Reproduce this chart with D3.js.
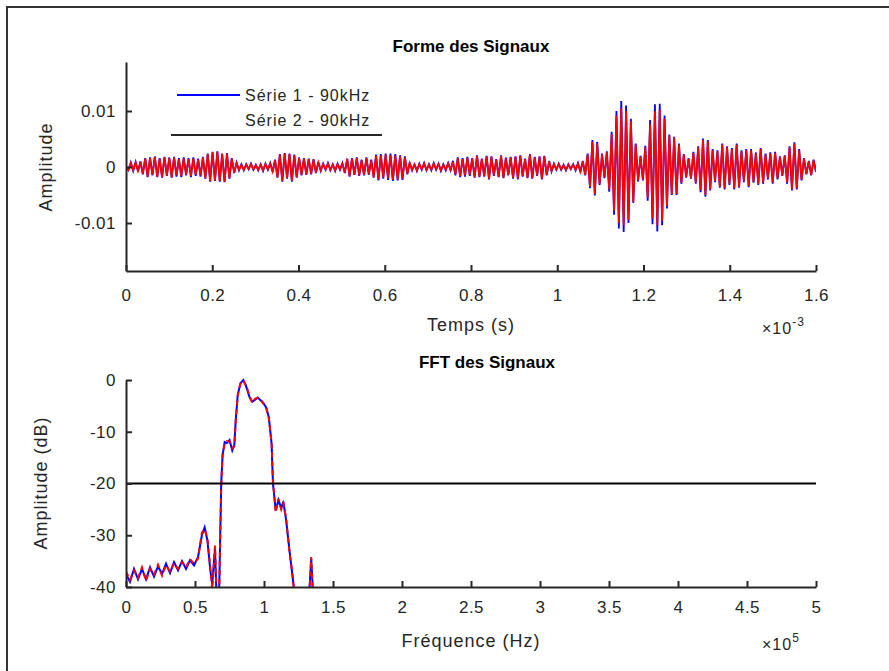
<!DOCTYPE html>
<head>
  <meta charset="utf-8">
  <script src="https://cdn.jsdelivr.net/npm/d3@7"></script>
  <style>
    body { margin: 0; background: #fff; }
    text { font-family: "Liberation Sans", Arial, sans-serif; fill: #262626; }
    .tick text { font-size: 17px; letter-spacing: 0.5px; }
    .lab { font-size: 18px; letter-spacing: 1px; }
    .ttl { font-size: 17px; font-weight: bold; fill: #000; }
  </style>
</head>
<body>
  <svg width="889" height="671"></svg>
  <script>

  // signal amplitudes, units of 1e-4, one value per half cycle (0 -> 1.6 ms)
  var serie1 = [
    0,-6,8,-7,9,-8,10,-13,16,-18,17,-15,19,-18,16,-19,18,-16,
    17,-19,18,-17,16,-18,17,-15,16,-18,17,-16,15,-17,18,-21,24,-26,
    27,-25,28,-26,24,-27,25,-21,16,-11,8,-6,5,-6,5,-4,6,-5,
    4,-6,5,-7,6,-5,7,-9,13,-19,23,-26,25,-21,24,-26,22,-19,
    17,-15,16,-14,15,-13,14,-11,9,-7,6,-5,7,-6,5,-7,6,-5,
    7,-11,15,-17,16,-14,17,-16,13,-15,17,-14,13,-19,22,-24,23,-21,
    24,-23,24,-25,23,-24,21,-23,19,-13,8,-6,5,-7,6,-5,7,-6,
    5,-6,7,-5,6,-7,5,-6,7,-6,11,-15,17,-18,16,-17,18,-16,
    16,-19,21,-18,15,-17,20,-22,19,-16,14,-18,21,-20,17,-15,18,-21,
    19,-22,21,-17,15,-20,23,-21,18,-16,19,-22,20,-15,11,-8,6,-5,
    6,-5,4,-6,5,-4,5,-6,7,-9,11,-15,24,-38,48,-51,45,-32,
    24,-20,28,-44,63,-85,100,-110,118,-116,110,-100,86,-64,42,-26,20,-24,
    38,-60,84,-102,112,-115,113,-104,92,-74,58,-50,54,-50,42,-30,23,-19,
    16,-21,27,-30,37,-45,51,-53,48,-42,32,-27,30,-37,42,-40,37,-32,
    34,-40,42,-37,30,-27,32,-36,32,-28,26,-32,34,-30,24,-22,26,-30,
    27,-22,19,-16,21,-30,37,-42,44,-40,32,-24,16,-13,11,-15,13,-9
  ];

  var serie2 = [
    0,-5,7,-6,8,-7,9,-12,15,-17,16,-14,18,-17,15,-18,17,-15,
    16,-18,17,-15,14,-16,15,-13,14,-16,15,-14,13,-15,17,-20,23,-25,
    26,-24,27,-25,23,-26,24,-20,15,-10,7,-5,4,-5,4,-3,5,-4,
    3,-5,4,-6,5,-4,6,-8,12,-18,22,-25,24,-20,23,-25,21,-18,
    16,-14,15,-13,14,-12,13,-10,8,-6,5,-4,6,-5,4,-6,5,-4,
    6,-10,14,-16,15,-13,16,-15,12,-14,16,-13,12,-18,20,-22,21,-19,
    22,-20,21,-23,20,-22,19,-21,17,-12,7,-5,4,-6,5,-4,6,-5,
    4,-5,6,-4,5,-6,4,-5,6,-5,9,-13,15,-16,14,-15,16,-14,
    15,-18,20,-17,14,-16,19,-21,18,-15,13,-17,20,-19,16,-14,17,-20,
    18,-21,20,-16,14,-19,22,-20,17,-15,18,-21,19,-14,10,-7,5,-4,
    5,-4,3,-5,4,-3,4,-5,6,-8,10,-14,22,-35,45,-48,42,-30,
    22,-18,26,-40,58,-78,92,-100,105,-104,100,-94,82,-62,40,-24,18,-22,
    35,-55,76,-92,100,-104,102,-96,86,-70,56,-48,52,-48,40,-28,22,-18,
    15,-20,25,-28,35,-42,48,-50,46,-40,30,-25,28,-35,40,-38,35,-30,
    32,-38,40,-35,28,-25,30,-34,30,-26,24,-30,32,-28,22,-20,24,-28,
    25,-20,18,-15,20,-28,35,-40,42,-38,30,-22,15,-12,10,-14,12,-8
  ];

  // FFT (Hz, dB)
  var fftFreq = [0,2900,5800,8700,11600,14500,17400,20300,23200,26100,29000,31900,34800,37700,40600,43500,46400,
    49300,52200,55000,57000,59000,61000,62500,64500,66000,67500,69000,70000,71500,73000,75000,77000,78500,79500,
    81000,83000,85000,86500,88000,89500,91500,93500,95500,97500,99500,101500,103500,105500,106500,108500,110500,
    112500,114000,116000,118500,120500,122000,124000,131000,133000,134200,135700,138000];
  var fft1 = [-37.5,-39,-36.5,-38.5,-36.5,-38.5,-36.2,-38,-36,-37.5,-35.5,-37.3,-35.2,-36.8,-35,-36.5,-34.8,
    -35.8,-34.2,-30,-28.5,-31,-36.5,-39.5,-32.5,-45,-41,-20,-14.5,-12,-12.2,-11.6,-13.6,-12.5,-7.8,
    -2.8,-0.6,0,-0.8,-2,-3.3,-4.2,-3.8,-3.4,-3.9,-4.4,-5.3,-7.2,-12.3,-20,-25.2,-23.2,
    -24.8,-23.5,-27,-33,-37.5,-41,-48,-55,-40,-34.5,-42,-55];
  var fft2 = [-37,-38.6,-36.8,-38.2,-36.2,-38.8,-36.5,-37.6,-35.7,-37.8,-35.8,-37,-35.4,-36.5,-35.2,-36.2,-34.6,
    -35.5,-34.5,-29.5,-28.8,-30.6,-36,-40.5,-32,-44,-42,-20.5,-14.2,-12.4,-11.8,-11.9,-13.2,-12.8,-8,
    -3,-0.5,-0.1,-0.9,-1.8,-3.1,-4.4,-3.6,-3.5,-3.7,-4.6,-5.1,-7.5,-12,-19.6,-25.6,-23,
    -25,-23.8,-26.6,-33.4,-37.2,-41.5,-47,-54,-41,-34.2,-43,-56];

  var yTicks1 = [-0.01, 0, 0.01],
      xTicks1 = [0, 0.2, 0.4, 0.6, 0.8, 1, 1.2, 1.4, 1.6],
      yTicks2 = [-40, -30, -20, -10, 0],
      xTicks2 = [0, 0.5, 1, 1.5, 2, 2.5, 3, 3.5, 4, 4.5, 5];

  var svg = d3.select("svg");

  // figure frame
  svg.append("rect")
      .attr("x", 7).attr("y", 7)
      .attr("width", 1000).attr("height", 800)
      .attr("fill", "none").attr("stroke", "#333").attr("stroke-width", 2);

  // ---------- top : Forme des Signaux ----------
  var x1 = d3.scaleLinear().domain([0, 1.6e-3]).range([126, 816]),
      y1 = d3.scaleLinear().domain([-0.01857, 0.01875]).range([271, 62]);

  var n = serie1.length;
  function tAt(i) { return i * 1.6e-3 / (n - 1); }

  var line1 = d3.line()
      .x(function(d, i) { return x1(tAt(i)); })
      .y(function(d) { return y1(d * 1e-4); });

  svg.append("defs").append("clipPath").attr("id", "c1")
    .append("rect").attr("x", 126).attr("y", 62).attr("width", 690).attr("height", 209);

  var g1 = svg.append("g").attr("clip-path", "url(#c1)");
  g1.append("path").attr("d", line1(serie1))
      .attr("fill", "none").attr("stroke", "#0000ff").attr("stroke-width", 1.8);
  g1.append("path").attr("d", line1(serie2))
      .attr("fill", "none").attr("stroke", "#ff0000").attr("stroke-width", 1.8);

  svg.append("g")
      .attr("transform", "translate(126,0)")
      .call(d3.axisLeft(y1).tickValues(yTicks1).tickSizeInner(-6).tickSizeOuter(0).tickPadding(10)
        .tickFormat(function(d) { return d === 0 ? "0" : d3.format(".2f")(d).replace("−", "-"); }))
      .call(styleAxis);

  svg.append("g")
      .attr("transform", "translate(0,271)")
      .call(d3.axisBottom(x1).tickValues(xTicks1.map(function(d) { return d * 1e-3; })).tickSizeInner(-6).tickSizeOuter(0).tickPadding(18)
        .tickFormat(function(d) { return d3.format("~g")(+(d * 1e3).toFixed(1)); }))
      .call(styleAxis);

  svg.append("text").attr("class", "ttl").attr("x", 471).attr("y", 52)
      .attr("text-anchor", "middle").text("Forme des Signaux");
  svg.append("text").attr("class", "lab").attr("x", 471).attr("y", 331)
      .attr("text-anchor", "middle").text("Temps (s)");
  svg.append("text").attr("class", "lab")
      .attr("transform", "translate(52,167) rotate(-90)")
      .attr("text-anchor", "middle").text("Amplitude");
  expo(762, 334, "-3");

  // legend
  svg.append("line").attr("x1", 177).attr("x2", 240).attr("y1", 95).attr("y2", 95)
      .attr("stroke", "#0000ff").attr("stroke-width", 2);
  svg.append("text").attr("class", "lab").style("font-size", "16px").attr("x", 245).attr("y", 101).text("Série 1 - 90kHz");
  svg.append("text").attr("class", "lab").style("font-size", "16px").attr("x", 245).attr("y", 126).text("Série 2 - 90kHz");
  svg.append("line").attr("x1", 171).attr("x2", 382).attr("y1", 135).attr("y2", 135)
      .attr("stroke", "#262626").attr("stroke-width", 2);

  // ---------- bottom : FFT des Signaux ----------
  var x2 = d3.scaleLinear().domain([0, 5e5]).range([126, 816]),
      y2 = d3.scaleLinear().domain([-40, 0]).range([587, 380]);

  svg.select("defs").append("clipPath").attr("id", "c2")
    .append("rect").attr("x", 126).attr("y", 370).attr("width", 690).attr("height", 217);

  var line2 = d3.line()
      .x(function(d, i) { return x2(fftFreq[i]); })
      .y(function(d) { return y2(d); });

  var g2 = svg.append("g").attr("clip-path", "url(#c2)");
  g2.append("path").attr("d", line2(fft1))
      .attr("fill", "none").attr("stroke", "#0000ff").attr("stroke-width", 2);
  g2.append("path").attr("d", line2(fft2))
      .attr("fill", "none").attr("stroke", "#ff0000").attr("stroke-width", 2)
      .attr("stroke-dasharray", "5,4");

  // -20 dB line
  svg.append("line")
      .attr("x1", x2(0)).attr("x2", x2(5e5))
      .attr("y1", y2(-20)).attr("y2", y2(-20))
      .attr("stroke", "#000").attr("stroke-width", 2);

  svg.append("g")
      .attr("transform", "translate(126,0)")
      .call(d3.axisLeft(y2).tickValues(yTicks2).tickSizeInner(-6).tickSizeOuter(0).tickPadding(10)
        .tickFormat(function(d) { return String(d); }))
      .call(styleAxis);

  svg.append("g")
      .attr("transform", "translate(0,587)")
      .call(d3.axisBottom(x2).tickValues(xTicks2.map(function(d) { return d * 1e5; })).tickSizeInner(-6).tickSizeOuter(0).tickPadding(14)
        .tickFormat(function(d) { return String(+(d / 1e5).toFixed(1)); }))
      .call(styleAxis);

  svg.append("text").attr("class", "ttl").attr("x", 487).attr("y", 368)
      .attr("text-anchor", "middle").text("FFT des Signaux");
  svg.append("text").attr("class", "lab").attr("x", 471).attr("y", 647)
      .attr("text-anchor", "middle").text("Fréquence (Hz)");
  svg.append("text").attr("class", "lab")
      .attr("transform", "translate(47,483) rotate(-90)")
      .attr("text-anchor", "middle").text("Amplitude (dB)");
  expo(762, 650, "5");

  function styleAxis(g) {
    g.select(".domain").attr("stroke", "#262626").attr("stroke-width", 2);
    g.selectAll(".tick line").attr("stroke", "#262626").attr("stroke-width", 2);
    g.selectAll(".tick text").attr("fill", "#262626").style("font-family", "Liberation Sans, Arial, sans-serif");
  }

  function expo(x, y, p) {
    var t = svg.append("text").attr("class", "lab").attr("x", x).attr("y", y).style("font-size", "16px");
    t.append("tspan").text("×10");
    t.append("tspan").attr("dy", -8).style("font-size", "12px").text(p);
  }
  </script>
</body>
